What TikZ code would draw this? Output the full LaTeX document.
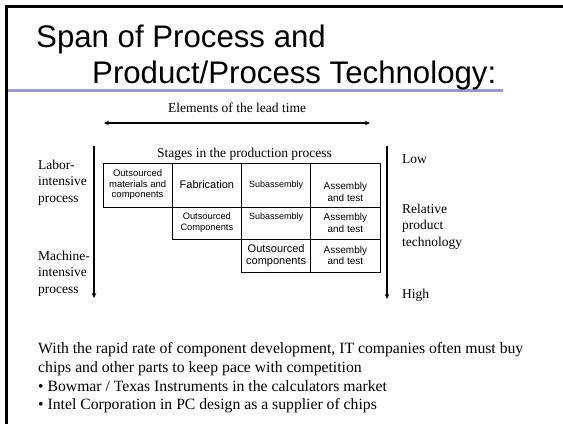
\documentclass[tikz,border=0pt]{standalone}
\usepackage{fontspec}
\setmainfont{Liberation Serif}
\setsansfont{Liberation Sans}
\usetikzlibrary{arrows.meta}

\definecolor{rulepurple}{RGB}{153,153,204}

\tikzset{
  titletext/.style={anchor=base west, inner sep=0, font=\sffamily\fontsize{31.2}{36}\selectfont},
  sidetext/.style={inner sep=0, align=left, font=\fontsize{13.5}{16.5}\selectfont},
  bodytext/.style={inner sep=0, align=left, anchor=north west, font=\fontsize{15.7}{18.7}\selectfont},
  cell/.style={draw, line width=0.9, inner sep=0, align=center, minimum width=69.25, minimum height=#1},
  cell/.default=44,
  scalearrow/.style={line width=1.1, -{Stealth[length=5pt,width=4.5pt]}},
}

\begin{document}
\begin{tikzpicture}[x=1pt,y=-1pt]
  \path[use as bounding box, fill=white] (0,0) rectangle (563,424);

  % slide frame and title rule
  \draw[line width=3] (5,6.5) -- (563,6.5);
  \draw[line width=3] (6.5,5) -- (6.5,424);
  \draw[rulepurple, line width=3] (8,90.5) -- (503,90.5);

  % title
  \node[titletext] (title1) at (36,47) {Span of Process and};
  \node[titletext] (title2) at (92,83.5) {Product/Process Technology:};

  % lead time
  \node[sidetext, anchor=base] (lead) at (237,112) {Elements of the lead time};
  \coordinate (leadL) at (104,123);
  \coordinate (leadR) at (370,123);
  \draw[line width=1.1, {Stealth[length=5pt,width=4.5pt]}-{Stealth[length=5pt,width=4.5pt]}] (leadL) -- (leadR);

  % process scale on the left
  \coordinate (procTop) at (94,146);
  \coordinate (procBot) at (94,298);
  \draw[scalearrow] (procTop) -- (procBot);
  \node[sidetext, anchor=north west] (labor) at (38,159.8) {Labor-\\intensive\\process};
  \node[sidetext, anchor=north west] (machine) at (38,250.8) {Machine-\\intensive\\process};

  % technology scale on the right
  \coordinate (techTop) at (387,146);
  \coordinate (techBot) at (387,299);
  \draw[scalearrow] (techTop) -- (techBot);
  \node[sidetext, anchor=base west] (low) at (402,163) {Low};
  \node[sidetext, anchor=north west] (relative) at (402,203.8) {Relative\\product\\technology};
  \node[sidetext, anchor=base west] (high) at (402,298) {High};

  % stages table
  \node[sidetext, anchor=base west] (stages) at (157,157) {Stages in the production process};

  \node[cell, font=\sffamily\fontsize{9.5}{10.5}\selectfont] (c11) at (137.625,185) {Outsourced\\materials and\\components};
  \node[cell, font=\sffamily\fontsize{11}{12}\selectfont] (c12) at (206.875,185) {Fabrication};
  \node[cell, font=\sffamily\fontsize{9}{10}\selectfont] (c13) at (276.125,185) {Subassembly};
  \node[cell, font=\sffamily\fontsize{10}{11.7}\selectfont] (c14) at (345.375,185) {\rule{0pt}{21.5pt}Assembly\\and test};

  \node[cell=32, font=\sffamily\fontsize{9.3}{11}\selectfont] (c22) at (206.875,223) {Outsourced\\Components};
  \node[cell=32, font=\sffamily\fontsize{9}{10}\selectfont, text depth=14.5] (c23) at (276.125,223) {Subassembly};
  \node[cell=32, font=\sffamily\fontsize{10}{11.5}\selectfont] (c24) at (345.375,223) {Assembly\\and test};

  \node[cell=33, font=\sffamily\fontsize{11}{12}\selectfont] (c33) at (276.125,255.5) {Outsourced\\components};
  \node[cell=33, font=\sffamily\fontsize{10}{11.5}\selectfont] (c34) at (345.375,255.5) {Assembly\\and test};

  % notes
  \node[bodytext] (note) at (38,342.4) {With the rapid rate of component development, IT companies often must buy\\chips and other parts to keep pace with competition\\\textbullet{} Bowmar / Texas Instruments in the calculators market\\\textbullet{} Intel Corporation in PC design as a supplier of chips};
\end{tikzpicture}
\end{document}
